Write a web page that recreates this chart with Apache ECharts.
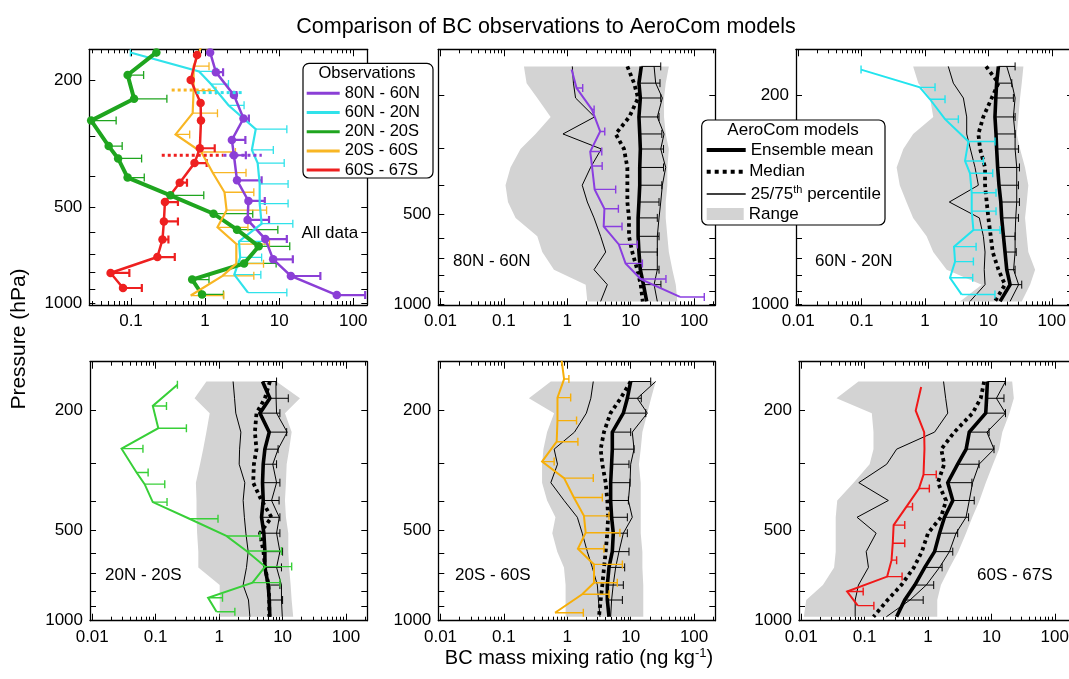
<!DOCTYPE html>
<html>
<head>
<meta charset="utf-8">
<script src="https://cdn.jsdelivr.net/npm/echarts@6/dist/echarts.min.js"></script>
<style>html,body{margin:0;padding:0;background:#fff}#chart{width:1069px;height:679px}</style>
</head>
<body>
<div id="chart"></div>
<script>
// ---------------- tick labels ----------------
const xTickValues = [0.01, 0.1, 1, 10, 100];
const xMinorTickValues = [0.02,0.03,0.04,0.05,0.06,0.07,0.08,0.09,0.2,0.3,0.4,0.5,0.6,0.7,0.8,0.9,2,3,4,5,6,7,8,9,20,30,40,50,60,70,80,90,200];
const yTickValues = [200, 500, 1000];
const yMinorTickValues = [300, 400, 600, 700, 800, 900];

// ---------------- observations (pressure hPa, BC ng/kg, mean+sd cap) ----------------
const p80N60N   = [164, 189, 223, 264, 308, 344, 412, 478, 548, 629, 728, 821, 942];
const bc80N60N  = [1.17, 1.4, 2.45, 3.3, 2.3, 2.45, 2.7, 3.85, 3.75, 6.5, 8.3, 14.4, 60];
const bcHi80N60N = [null, 1.75, 2.65, 3.9, 3.5, 3.55, 5.8, 6.4, 7.3, 12.7, 15.3, 36, 145];

const p60N20N   = [164, 188, 206, 240, 285, 331, 364, 423, 487, 563, 640, 718, 813, 925];
const bc60N20N  = [0.098, 0.83, 1.2, 2.07, 4.83, 4.28, 5.13, 5.46, 5.46, 5.8, 2.87, 2.98, 2.48, 3.79];
const bcHi60N20N = [0.098, 1.44, 2.07, 3.36, 12.7, 8.34, 11.7, 13.2, 13.2, 15.3, 6.4, 5.8, 5.66, 12.7];

const p20N20S   = [164, 193, 229, 268, 322, 352, 404, 459, 524, 588, 663, 750, 842, 938];
const bc20N20S  = [0.22, 0.09, 0.11, 0.029, 0.05, 0.067, 0.09, 0.34, 1.3, 2.7, 5.3, 3.36, 0.67, 0.91];
const bcHi20N20S = [0.22, 0.148, 0.305, 0.063, 0.076, 0.139, 0.151, 0.96, 4.4, 9.6, 13.9, 9.1, 1.13, 1.77];

const p20S60S   = [135, 157, 181, 216, 254, 296, 336, 390, 449, 511, 578, 652, 751, 820, 945];
const bc20S60S  = [0.81, 0.89, 0.70, 0.70, 0.68, 0.40, 0.89, 1.27, 1.83, 1.95, 1.47, 2.64, 2.64, 1.72, 0.64];
const bcHi20S60S = [null, 1.06, 1.13, 1.40, 1.47, 0.62, 2.57, 3.57, 4.55, 6.77, 3.79, 7.4, 6.15, 4.55, 1.79];

const p60S67S   = [167, 200, 236, 268, 327, 364, 419, 482, 554, 631, 716, 803, 895];
const bc60S67S  = [0.78, 0.64, 0.87, 0.88, 0.85, 0.72, 0.455, 0.287, 0.278, 0.266, 0.227, 0.053, 0.078];
const bcHi60S67S = [null, null, null, null, 1.35, 1.05, 0.57, 0.43, 0.43, 0.32, 0.39, 0.095, 0.14];

// horizontal dotted spans in the "All data" panel
const spanBC20S60S = [0.354, 1.3],  spanP20S60S = [215, 215];
const spanBC60N20N = [0.77, 3.3],   spanP60N20N = [219, 219];
const spanBC60S67S = [0.26, 1.77],  spanP60S67S = [344, 344];
const spanBC80N60N = [1.77, 5.83],  spanP80N60N = [344, 344];

// ---------------- AeroCom models ----------------
const pModel = [160, 182, 204, 236, 269, 302, 348, 399, 454, 513, 591, 667, 764, 857, 975];

const rangeLo80N60N = [0.207, 0.228, 0.336, 0.546, 0.316, 0.183, 0.127, 0.106, 0.116, 0.153, 0.336, 0.403, 0.616, 1.95, 2.07];
const rangeHi80N60N = [40, 35.7, 33.6, 33.6, 35.7, 40, 37.9, 37.9, 35.7, 35.7, 37.9, 40, 45.5, 51.5, 54.5];
const p25_80N60N    = [1.2, 1.25, 1.35, 2.7, 0.855, 3.44, 2.33, 1.72, 2.07, 2.64, 3.36, 4.03, 2.64, 4.28, 3.36];
const p75_80N60N    = [23.4, 24.8, 31.6, 26.3, 33.6, 29.8, 35.7, 31.6, 29.8, 28, 26.3, 26.3, 26.3, 23.4, 26.3];
const median80N60N  = [8.86, 11.3, 13.1, 9.5, 5.8, 7.85, 8.86, 8.86, 8.86, 9.4, 9.4, 10.6, 12.7, 14.4, 15.5];
const mean80N60N    = [14.7, 13.5, 14.2, 13.5, 13.9, 14.2, 13.9, 13.9, 13.5, 13.1, 13.1, 13.5, 14.2, 15.9, 17.9];
const meanHi80N60N  = [29.8, 29, 29.8, 28, 31, 33, 33, 31, 28, 26.3, 28, 26.3, 28, 30, null];

const rangeLo60N20N = [0.65, 0.785, 1.2, 1.35, 0.65, 0.455, 0.357, 0.40, 0.51, 0.65, 1.06, 1.35, 2.2, 7.85, 3.57];
const rangeHi60N20N = [35.7, 33.6, 31.6, 29.8, 28, 31.6, 37.9, 42.7, 40.3, 37.9, 40.3, 42.7, 54.6, 45.5, 33.6];
const p25_60N20N    = [2.33, 2.8, 4.03, 4.55, 4.55, 5.2, 6.16, 6.95, 2.42, 7.2, 8.34, 8.86, 8.6, 8.86, 5.13];
const p75_60N20N    = [19.5, 23.4, 26.4, 24.8, 26.4, 26.4, 28, 28, 28, 27, 26.4, 26.4, 25, 30, 22];
const median60N20N  = [9.2, 14.4, 11.3, 8.3, 6.95, 7.4, 8.86, 8.86, 9.4, 10, 10.9, 11.7, 14.4, 18.3, 12.7];
const mean60N20N    = [14.4, 13.5, 13.1, 12.7, 13.2, 13.5, 14.0, 14.7, 15.7, 16.2, 17.3, 18.3, 19.5, 22, 15.3];
const meanHi60N20N  = [26.4, 23.4, 24.8, 26.4, 26.4, 29.8, 30.9, 29.8, 30.9, 29.8, 26.4, 27.5, 26.4, 33.6, null];

const rangeLo20N20S = [0.63, 0.41, 0.71, 0.63, 0.56, 0.50, 0.43, 0.44, 0.44, 0.45, 0.47, 0.47, 1.02, 1.02, 1.02];
const rangeHi20N20S = [8.0, 18.8, 10.9, 13.9, 12.7, 11.6, 11.3, 10.9, 11.3, 12.3, 12.3, 12.7, 13.4, 13.9, 14.7];
const p25_20N20S    = [1.66, 1.75, 1.83, 2.2, 2.1, 2.07, 2.54, 2.39, 2.5, 2.64, 2.87, 2.7, 2.39, 2.9, 3.05];
const p75_20N20S    = [7.85, 7.9, 8.04, 11.8, 8.5, 7.0, 8.04, 6.7, 8.86, 8.04, 9.07, 8.04, 9.6, 9.6, 9.9];
const median20N20S  = [6.3, 5.26, 3.88, 3.66, 3.88, 3.53, 3.44, 4.66, 6.7, 4.39, 5.0, 5.3, 6.0, 6.16, 6.16];
const mean20N20S    = [4.83, 6.3, 4.39, 6.16, 5.26, 4.95, 4.83, 4.95, 4.66, 5.07, 5.26, 5.26, 5.94, 6.16, 6.3];
const meanHi20N20S  = [8.04, 12.3, 9.07, 11.6, 8.5, 8.04, 9.07, 8.8, 9.07, 9.07, 10, 9.6, 9.07, 10, null];

const rangeLo20S60S = [0.55, 0.248, 0.62, 0.48, 0.42, 0.40, 0.40, 0.48, 0.65, 0.58, 0.695, 0.886, 0.94, 0.94, 0.94];
const rangeHi20S60S = [24.8, 21, 18.3, 15.3, 14.4, 13.5, 14.4, 14.4, 14.4, 14.4, 15.3, 15.3, 15.8, 15.8, 15.8];
const p25_20S60S    = [2.57, 2.35, 2.0, 1.3, 0.62, 0.70, 0.55, 0.89, 1.44, 1.72, 2.07, 2.48, 2.98, 3.1, 3.28];
const p75_20S60S    = [24.8, 12.7, 18.3, 10.6, 11.3, 10, 9.76, 9.2, 10.6, 7.66, 6.54, 5.8, 5.3, 5.0, 4.83];
const median20S60S  = [10, 6.95, 4.8, 3.79, 3.36, 3.57, 4.03, 4.28, 4.4, 4.28, 4.03, 3.8, 3.57, 3.36, 3.16];
const mean20S60S    = [10, 8.86, 7.66, 5.13, 5.13, 5.0, 4.83, 4.83, 5.0, 5.32, 5.13, 4.55, 4.28, 4.28, 4.55];
const meanHi20S60S  = [20.7, 14.7, 17.3, 10, 11.3, 9.4, 9.76, 9.2, 8.86, 8.86, 9.4, 8.04, 7.66, 7.4, null];

const rangeLo60S67S = [0.08, 0.036, 0.13, 0.138, 0.138, 0.12, 0.067, 0.037, 0.035, 0.035, 0.035, 0.033, 0.022, 0.012, 0.011];
const rangeHi60S67S = [21.3, 22.6, 19.3, 14.9, 13.2, 10.6, 8.16, 6.5, 5.0, 3.98, 3.0, 2.2, 1.6, 1.4, 1.4];
const p25_60S67S    = [1.76, 1.9, 2.05, 1.27, 0.32, 0.223, 0.081, 0.237, 0.076, 0.152, 0.106, 0.115, 0.08, 0.071, 0.071];
const p75_60S67S    = [16.7, 12, 16.7, 8.5, 11, 6.4, 5.05, 4.48, 3.98, 2.77, 2.18, 1.52, 0.94, 0.52, 0.22];
const median60S67S  = [7.68, 6.8, 5.05, 2.6, 1.62, 1.8, 1.43, 1.93, 1.6, 1.0, 0.8, 0.6, 0.38, 0.23, 0.138];
const mean60S67S    = [8.66, 8.4, 8.15, 4.48, 4.0, 2.94, 2.05, 2.46, 1.82, 1.52, 1.27, 0.89, 0.62, 0.43, 0.32];
const meanHi60S67S  = [16.7, 15.8, 16.7, 9.2, 11.0, 6.4, 4.93, 5.36, 4.37, 2.94, 2.46, 1.67, 1.23, 0.84, null];

const obsNames = ['80N - 60N', '60N - 20N', '20N - 20S', '20S - 60S', '60S - 67S'];
const panelLabels = ['All data', '80N - 60N', '60N - 20N', '20N - 20S', '20S - 60S', '60S - 67S'];

// ---------------- build ----------------
const LG = v => Math.log10(v);
const FONT = "'Liberation Sans', Arial, Helvetica, sans-serif";
const GRAY = '#d3d3d3';

const regions = [
  {name: obsNames[0], p: p80N60N, v: bc80N60N, hi: bcHi80N60N, c1: '#8b3fd6', c2: '#8a3ee0', w1: 2.5, ew1: 2.2, dots: true,
   m: {lo: rangeLo80N60N, hi: rangeHi80N60N, p25: p25_80N60N, p75: p75_80N60N, med: median80N60N, mean: mean80N60N, sd: meanHi80N60N}},
  {name: obsNames[1], p: p60N20N, v: bc60N20N, hi: bcHi60N20N, c1: '#30e2ea', c2: '#22e4ee', w1: 2.2, ew1: 1.3, dots: false,
   m: {lo: rangeLo60N20N, hi: rangeHi60N20N, p25: p25_60N20N, p75: p75_60N20N, med: median60N20N, mean: mean60N20N, sd: meanHi60N20N}},
  {name: obsNames[2], p: p20N20S, v: bc20N20S, hi: bcHi20N20S, c1: '#1fa51f', c2: '#38cf38', w1: 4, ew1: 1.3, dots: true,
   m: {lo: rangeLo20N20S, hi: rangeHi20N20S, p25: p25_20N20S, p75: p75_20N20S, med: median20N20S, mean: mean20N20S, sd: meanHi20N20S}},
  {name: obsNames[3], p: p20S60S, v: bc20S60S, hi: bcHi20S60S, c1: '#f8b624', c2: '#f6ae08', w1: 2.2, ew1: 1.3, dots: false,
   m: {lo: rangeLo20S60S, hi: rangeHi20S60S, p25: p25_20S60S, p75: p75_20S60S, med: median20S60S, mean: mean20S60S, sd: meanHi20S60S}},
  {name: obsNames[4], p: p60S67S, v: bc60S67S, hi: bcHi60S67S, c1: '#ee2020', c2: '#f01818', w1: 2.5, ew1: 2.2, dots: true,
   m: {lo: rangeLo60S67S, hi: rangeHi60S67S, p25: p25_60S67S, p75: p75_60S67S, med: median60S67S, mean: mean60S67S, sd: meanHi60S67S}}
];

const XR = [-2.035, 2.335];
const panels = [
  {left: 89.3, top: 49.3, width: 278, height: 255.7, x: [-1.563, 2.19], y: [2.205, 3.005], label: [301.5, 233]},
  {left: 438.3, top: 49.3, width: 277, height: 256, x: XR, y: [2.147, 3.002], label: [453, 261]},
  {left: 796, top: 49.3, width: 277, height: 256, x: XR, y: [2.147, 3.002], label: [815, 261]},
  {left: 90, top: 361.7, width: 277.3, height: 259, x: XR, y: [2.138, 3.002], label: [105, 575]},
  {left: 438.3, top: 361.7, width: 277, height: 259, x: XR, y: [2.138, 3.002], label: [455, 575]},
  {left: 799, top: 361.7, width: 277, height: 259, x: XR, y: [2.138, 3.002], label: [977, 575]}
];

const xMajorLog = xTickValues.map(LG);
const xMinorLog = xMinorTickValues.map(LG);
const yMajorLog = yTickValues.map(LG);
const yAllLog = yTickValues.concat(yMinorTickValues).map(LG);

function fmtX(v) {
  for (const t of xTickValues) if (Math.abs(LG(t) - v) < 1e-6) return String(t);
  return '';
}
function fmtY(v) { return String(Math.round(Math.pow(10, v))); }

const AX_LINE = {show: true, onZero: false, lineStyle: {color: '#000', width: 1.3}};
const TICK_STYLE = {color: '#000', width: 1};
const grids = [], xAxes = [], yAxes = [];
panels.forEach((pn, gi) => {
  grids.push({left: pn.left, top: pn.top, width: pn.width, height: pn.height, containLabel: false, outerBoundsMode: 'none'});
  const bx = {gridIndex: gi, type: 'value', min: pn.x[0], max: pn.x[1], splitLine: {show: false}, axisPointer: {show: false}};
  xAxes.push(Object.assign({}, bx, {position: 'bottom', axisLine: AX_LINE,
    axisTick: {show: true, inside: true, length: 7, customValues: xMajorLog, lineStyle: TICK_STYLE},
    axisLabel: {show: true, customValues: xMajorLog, formatter: fmtX, fontSize: 17, color: '#000', margin: 8, fontFamily: FONT}}));
  xAxes.push(Object.assign({}, bx, {position: 'top', axisLine: AX_LINE,
    axisTick: {show: true, inside: true, length: 7, customValues: xMajorLog, lineStyle: TICK_STYLE},
    axisLabel: {show: false}}));
  xAxes.push(Object.assign({}, bx, {position: 'bottom', axisLine: {show: false, onZero: false},
    axisTick: {show: true, inside: true, length: 4, customValues: xMinorLog, lineStyle: TICK_STYLE},
    axisLabel: {show: false}}));
  xAxes.push(Object.assign({}, bx, {position: 'top', axisLine: {show: false, onZero: false},
    axisTick: {show: true, inside: true, length: 4, customValues: xMinorLog, lineStyle: TICK_STYLE},
    axisLabel: {show: false}}));
  const by = {gridIndex: gi, type: 'value', inverse: true, min: pn.y[0], max: pn.y[1], splitLine: {show: false}, axisPointer: {show: false}};
  yAxes.push(Object.assign({}, by, {position: 'left', axisLine: AX_LINE,
    axisTick: {show: true, inside: true, length: 6, customValues: yAllLog, lineStyle: TICK_STYLE},
    axisLabel: {show: true, customValues: yMajorLog, formatter: fmtY, fontSize: 17, color: '#000', margin: 7, fontFamily: FONT}}));
  yAxes.push(Object.assign({}, by, {position: 'right', axisLine: AX_LINE,
    axisTick: {show: true, inside: true, length: 6, customValues: yAllLog, lineStyle: TICK_STYLE},
    axisLabel: {show: false}}));
});

function lineSeries(name, gi, pArr, vArr, color, width, extra) {
  const s = {
    type: 'line', name, xAxisIndex: gi * 4, yAxisIndex: gi * 2, silent: true, animation: false,
    data: pArr.map((p, j) => [LG(vArr[j]), LG(p)]),
    symbol: 'none', showSymbol: false, clip: true,
    lineStyle: {color, width, type: 'solid', cap: 'butt', join: 'miter'},
    itemStyle: {color, borderWidth: 0}, z: 3, emphasis: {disabled: true}
  };
  return Object.assign(s, extra || {});
}

function errSeries(name, gi, pArr, vArr, hiArr, color, width, z) {
  const data = [];
  pArr.forEach((p, j) => { if (hiArr[j] != null) data.push([LG(vArr[j]), LG(hiArr[j]), LG(p)]); });
  return {
    type: 'custom', name, xAxisIndex: gi * 4, yAxisIndex: gi * 2, clip: true, z, silent: true, animation: false,
    encode: {x: [0, 1], y: 2}, data, itemStyle: {color},
    renderItem: (params, api) => {
      const a = api.coord([api.value(0), api.value(2)]);
      const b = api.coord([api.value(1), api.value(2)]);
      const st = {stroke: color, lineWidth: width, fill: null};
      return {type: 'group', children: [
        {type: 'line', shape: {x1: a[0], y1: a[1], x2: b[0], y2: b[1]}, style: st},
        {type: 'line', shape: {x1: b[0], y1: b[1] - 4, x2: b[0], y2: b[1] + 4}, style: st}
      ]};
    }
  };
}

function rangeSeries(gi, m) {
  return {
    type: 'custom', name: 'Range', xAxisIndex: gi * 4, yAxisIndex: gi * 2, clip: true, z: 1, silent: true, animation: false,
    itemStyle: {color: GRAY}, encode: {x: 0, y: 1},
    data: [[LG(m.lo[0]), LG(pModel[0])]],
    renderItem: (params, api) => {
      const pts = [];
      pModel.forEach((p, j) => pts.push(api.coord([LG(m.lo[j]), LG(p)])));
      for (let j = pModel.length - 1; j >= 0; j--) pts.push(api.coord([LG(m.hi[j]), LG(pModel[j])]));
      return {type: 'polygon', shape: {points: pts}, style: {fill: GRAY}};
    }
  };
}

const series = [];
// Panel 1: all observations
regions.forEach(r => {
  series.push(lineSeries(r.name, 0, r.p, r.v, r.c1, r.w1,
    r.dots ? {symbol: 'circle', symbolSize: 8.5, showSymbol: true, z: 4} : {z: 4}));
});
regions.forEach(r => series.push(errSeries(r.name + ' sd', 0, r.p, r.v, r.hi, r.c1, r.ew1, 4)));
[[spanBC20S60S, spanP20S60S, regions[3].c1], [spanBC60N20N, spanP60N20N, regions[1].c1],
 [spanBC60S67S, spanP60S67S, regions[4].c1], [spanBC80N60N, spanP80N60N, regions[0].c1]].forEach((s, k) => {
  series.push(lineSeries('span' + k, 0, s[1], s[0], s[2], 3, {z: 5,
    lineStyle: {color: s[2], width: 3, type: [3, 3], cap: 'butt'}}));
});

// Panels 2-6: region vs models
regions.forEach((r, k) => {
  const gi = k + 1, m = r.m;
  series.push(rangeSeries(gi, m));
  series.push(lineSeries('25/75th percentile', gi, pModel, m.p25, '#000', 1, {z: 2}));
  series.push(lineSeries('25/75th percentile', gi, pModel, m.p75, '#000', 1, {z: 2}));
  series.push(lineSeries('Median', gi, pModel, m.med, '#000', 3.8,
    {z: 3, lineStyle: {color: '#000', width: 3.8, type: [3.5, 3.5], cap: 'butt'}}));
  series.push(lineSeries('Ensemble mean', gi, pModel, m.mean, '#000', 3.6, {z: 3}));
  series.push(errSeries('Ensemble sd', gi, pModel, m.mean, m.sd, '#000', 1, 3));
  series.push(lineSeries(r.name, gi, r.p, r.v, r.c2, 2, {z: 5}));
  series.push(errSeries(r.name + ' sd', gi, r.p, r.v, r.hi, r.c2, 1.4, 5));
});

const legTxt = {fontSize: 16.5, lineHeight: 17, color: '#000', fontFamily: FONT};
const legTxt2 = {fontSize: 17, lineHeight: 20, color: '#000', fontFamily: FONT,
  rich: {sup: {fontSize: 11, lineHeight: 20, verticalAlign: 'top', fontFamily: FONT, color: '#000'}}};
const legBase = {orient: 'vertical', padding: 0, selectedMode: false, z: 12, itemStyle: {borderWidth: 0}};
const legends = [
  Object.assign({}, legBase, {left: 306.7, top: 84.8, itemWidth: 33, itemHeight: 3, itemGap: 2.2, icon: 'rect',
    textStyle: legTxt, data: obsNames}),
  Object.assign({}, legBase, {left: 706.7, top: 140, itemWidth: 39, itemHeight: 4, icon: 'rect',
    textStyle: legTxt2, data: [{name: 'Ensemble mean', itemStyle: {color: '#000'}}]}),
  Object.assign({}, legBase, {left: 706.7, top: 161.7, itemWidth: 39, itemHeight: 4,
    textStyle: legTxt2,
    data: [{name: 'Median', icon: 'path://M0,0h4v4h-4zM8,0h4v4h-4zM16,0h4v4h-4zM24,0h4v4h-4zM32,0h4v4h-4z', itemStyle: {color: '#000'}}]}),
  Object.assign({}, legBase, {left: 706.7, top: 184, itemWidth: 39, itemHeight: 1.3, icon: 'rect',
    textStyle: legTxt2, formatter: n => n === '25/75th percentile' ? '25/75{sup|th} percentile' : n,
    data: [{name: '25/75th percentile', itemStyle: {color: '#000'}}]}),
  Object.assign({}, legBase, {left: 706.7, top: 204, itemWidth: 37, itemHeight: 12, icon: 'rect',
    textStyle: legTxt2, data: [{name: 'Range', itemStyle: {color: GRAY}}]})
];

function txt(x, y, text, size, extra) {
  return Object.assign({type: 'text', x, y, z: 11, silent: true,
    style: {text, font: size + 'px ' + FONT, fontSize: size, fontFamily: FONT, fill: '#000',
      align: 'center', verticalAlign: 'middle', textAlign: 'center', textVerticalAlign: 'middle'}}, extra || {});
}
const graphics = [
  txt(546, 27, 'Comparison of BC observations to AeroCom models', 21.5),
  txt(19, 339, 'Pressure (hPa)', 21, {rotation: Math.PI / 2}),
  {type: 'text', x: 579, y: 658, z: 11, silent: true,
   style: {text: '{n|BC mass mixing ratio (ng kg}{s|-1}{n|)}', fill: '#000', align: 'center', verticalAlign: 'middle',
     textAlign: 'center', textVerticalAlign: 'middle',
     rich: {n: {fontSize: 20, fontFamily: FONT, fill: '#000', color: '#000', lineHeight: 22},
            s: {fontSize: 13, fontFamily: FONT, fill: '#000', color: '#000', verticalAlign: 'top', lineHeight: 22}}}},
  {type: 'rect', z: 10, silent: true, shape: {x: 303, y: 63.3, width: 130, height: 114.7, r: 6},
   style: {fill: '#fff', stroke: '#000', lineWidth: 1.2}},
  txt(367, 73.5, 'Observations', 16.5),
  {type: 'rect', z: 10, silent: true, shape: {x: 701.7, y: 120, width: 183.3, height: 105, r: 6},
   style: {fill: '#fff', stroke: '#000', lineWidth: 1.2}},
  txt(793, 130.5, 'AeroCom models', 17)
];
panels.forEach((pn, i) => {
  const t = txt(pn.label[0], pn.label[1], panelLabels[i], 17);
  t.style.align = 'left'; t.style.textAlign = 'left'; t.z = 6;
  graphics.push(t);
});

const chart = echarts.init(document.getElementById('chart'), null, {renderer: 'canvas'});
chart.setOption({
  animation: false,
  backgroundColor: '#fff',
  textStyle: {fontFamily: FONT},
  grid: grids,
  xAxis: xAxes,
  yAxis: yAxes,
  legend: legends,
  series: series,
  graphic: {elements: graphics}
});
</script>
</body>
</html>
